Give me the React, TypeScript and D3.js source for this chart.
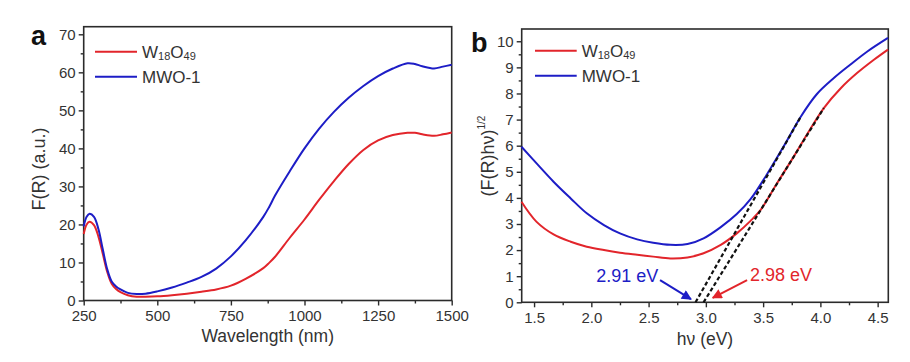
import React, { useEffect, useRef } from "react";
import * as d3 from "d3";

// panel a: Kubelka-Munk function vs wavelength
const wavelength = [250, 260, 270, 285, 300, 315, 330, 345, 360, 375, 400, 430, 460, 500, 550, 600, 650, 700, 750, 800, 860, 880, 900, 950, 1000, 1050, 1100, 1150, 1200, 1250, 1300, 1350, 1375, 1400, 1440, 1470, 1500];
const fW18O49 = [17.5, 20.0, 20.7, 19.8, 16.8, 12.2, 7.5, 4.4, 3.0, 2.2, 1.4, 1.0, 1.0, 1.1, 1.4, 1.8, 2.3, 2.9, 3.9, 5.7, 8.5, 9.9, 11.5, 16.5, 21.3, 26.5, 31.4, 35.9, 39.6, 42.1, 43.5, 44.1, 44.1, 43.7, 43.3, 43.7, 44.2];
const fMWO1 = [19.5, 22.0, 22.8, 22.0, 18.8, 13.4, 8.2, 5.0, 3.7, 2.9, 2.0, 1.7, 1.8, 2.4, 3.4, 4.7, 6.2, 8.4, 11.6, 15.8, 22.0, 24.6, 27.6, 34.0, 40.0, 45.2, 49.6, 53.3, 56.4, 59.0, 61.0, 62.4, 62.2, 61.6, 61.0, 61.5, 62.0];

// panel b: Tauc plot
const hvW18O49 = [1.39, 1.52, 1.67, 1.82, 1.96, 2.11, 2.25, 2.4, 2.54, 2.69, 2.84, 2.98, 3.13, 3.27, 3.39, 3.48, 3.62, 3.77, 3.9, 4.03, 4.18, 4.32, 4.47, 4.59];
const taucW18O49 = [3.85, 3.09, 2.6, 2.32, 2.13, 2.0, 1.9, 1.82, 1.75, 1.68, 1.72, 1.88, 2.2, 2.64, 3.12, 3.55, 4.55, 5.6, 6.55, 7.44, 8.21, 8.78, 9.3, 9.68];
const hvMWO1 = [1.39, 1.52, 1.67, 1.82, 1.96, 2.11, 2.25, 2.4, 2.54, 2.69, 2.84, 2.98, 3.13, 3.27, 3.39, 3.53, 3.68, 3.83, 3.97, 4.12, 4.26, 4.41, 4.59];
const taucMWO1 = [5.96, 5.33, 4.62, 3.98, 3.41, 2.96, 2.64, 2.41, 2.28, 2.2, 2.23, 2.45, 2.88, 3.38, 3.95, 4.88, 5.98, 7.12, 7.98, 8.6, 9.1, 9.61, 10.13];

// band gap tangents [W18O49, MWO-1]
const bandGap = [2.98, 2.91];
const tangentTopHv = [4.03, 3.83];
const tangentTopY = [7.44, 7.12];
const gapLabels = ["2.98 eV", "2.91 eV"];

const xTicksA = [250, 500, 750, 1000, 1250, 1500];
const yTicksA = [0, 10, 20, 30, 40, 50, 60, 70];
const xTicksB = [1.5, 2.0, 2.5, 3.0, 3.5, 4.0, 4.5];
const yTicksB = [0, 1, 2, 3, 4, 5, 6, 7, 8, 9, 10];

const RED = "#e2252b";
const BLUE = "#1d1dc6";
const INK = "#2b2b2b";
const TXT = "#333";
const FONT = "'Liberation Sans', Arial, Helvetica, sans-serif";

const mids = (t: number[]) => t.slice(1).map((v, i) => (v + t[i]) / 2);

function drawAxes(g, x, y, xTicks, yTicks, xFmt, yFmt) {
  const [x0, x1] = x.range();
  const [y0, y1] = y.range();

  const style = (sel) => {
    sel.select(".domain").remove();
    sel.selectAll("line").attr("stroke", INK).attr("stroke-width", 1.4);
    sel.selectAll("text").attr("fill", TXT).attr("font-size", 15).attr("font-family", FONT);
  };

  g.append("g")
    .attr("transform", `translate(0,${y0})`)
    .call(d3.axisBottom(x).tickValues(xTicks).tickSize(5).tickPadding(5).tickFormat(xFmt))
    .call(style);
  g.append("g")
    .attr("transform", `translate(0,${y0})`)
    .call(d3.axisBottom(x).tickValues(mids(xTicks)).tickSize(3).tickFormat(() => ""))
    .call(style);
  g.append("g")
    .attr("transform", `translate(${x0},0)`)
    .call(d3.axisLeft(y).tickValues(yTicks).tickSize(5).tickPadding(3).tickFormat(yFmt))
    .call(style);
  g.append("g")
    .attr("transform", `translate(${x0},0)`)
    .call(d3.axisLeft(y).tickValues(mids(yTicks)).tickSize(3).tickFormat(() => ""))
    .call(style);

  g.append("rect")
    .attr("x", x0)
    .attr("y", y1)
    .attr("width", x1 - x0)
    .attr("height", y0 - y1)
    .attr("fill", "none")
    .attr("stroke", INK)
    .attr("stroke-width", 1.6);
}

function drawLegend(g, lx0, lx1, ly) {
  [RED, BLUE].forEach((c, i) => {
    g.append("line")
      .attr("x1", lx0)
      .attr("x2", lx1)
      .attr("y1", ly + i * 25)
      .attr("y2", ly + i * 25)
      .attr("stroke", c)
      .attr("stroke-width", 2);
  });
  const t1 = g.append("text")
    .attr("x", lx1 + 5)
    .attr("y", ly + 6.5)
    .attr("font-size", 17)
    .attr("font-family", FONT)
    .attr("fill", TXT);
  t1.append("tspan").text("W");
  t1.append("tspan").attr("font-size", 11).attr("dy", 2).text("18");
  t1.append("tspan").attr("dy", -2).text("O");
  t1.append("tspan").attr("font-size", 11).attr("dy", 2).text("49");
  g.append("text")
    .attr("x", lx1 + 5)
    .attr("y", ly + 25 + 6.5)
    .attr("font-size", 17)
    .attr("font-family", FONT)
    .attr("fill", TXT)
    .text("MWO-1");
}

const App = () => {
  const chart = useRef(null);

  useEffect(() => {
    const svg = d3.select(chart.current);
    svg.selectAll("*").remove();

    const curve = d3.curveCatmullRom.alpha(0.5);

    // ---------- panel a ----------
    const xa = d3.scaleLinear().domain([250, 1500]).range([83.7, 451.7]);
    const ya = d3.scaleLinear().domain([0, 72]).range([300.5, 26.7]);
    const ga = svg.append("g");

    drawAxes(ga, xa, ya, xTicksA, yTicksA, d3.format("d"), d3.format("d"));

    const lineA = d3.line<number>().x((d, i) => xa(wavelength[i])).y((d) => ya(d)).curve(curve);
    [[fW18O49, RED], [fMWO1, BLUE]].forEach(([vals, c]) => {
      ga.append("path")
        .attr("d", lineA(vals as number[]))
        .attr("fill", "none")
        .attr("stroke", c as string)
        .attr("stroke-width", 2);
    });

    drawLegend(ga, 95, 137, 51.7);

    ga.append("text")
      .attr("x", 31)
      .attr("y", 45)
      .attr("font-size", 27)
      .attr("font-weight", "bold")
      .attr("font-family", FONT)
      .attr("fill", "#111")
      .text("a");

    ga.append("text")
      .attr("x", 267.7)
      .attr("y", 342)
      .attr("text-anchor", "middle")
      .attr("font-size", 17.5)
      .attr("font-family", FONT)
      .attr("fill", TXT)
      .text("Wavelength (nm)");

    ga.append("text")
      .attr("transform", "translate(45,169) rotate(-90)")
      .attr("text-anchor", "middle")
      .attr("font-size", 18)
      .attr("font-family", FONT)
      .attr("fill", TXT)
      .text("F(R) (a.u.)");

    // ---------- panel b ----------
    const xb = d3.scaleLinear().domain([1.392, 4.593]).range([521.7, 888.3]);
    const yb = d3.scaleLinear().domain([0, 10.47]).range([302.3, 29]);
    const gb = svg.append("g");

    drawAxes(gb, xb, yb, xTicksB, yTicksB, d3.format(".1f"), d3.format("d"));

    const lineB = d3.line<[number, number]>().x((d) => xb(d[0])).y((d) => yb(d[1])).curve(curve);
    const seriesB: [number[], number[], string][] = [
      [hvW18O49, taucW18O49, RED],
      [hvMWO1, taucMWO1, BLUE],
    ];
    seriesB.forEach(([hx, vy, c]) => {
      gb.append("path")
        .attr("d", lineB(hx.map((h, i) => [h, vy[i]])))
        .attr("fill", "none")
        .attr("stroke", c)
        .attr("stroke-width", 2);
    });

    // tangent lines
    bandGap.forEach((eg, i) => {
      gb.append("line")
        .attr("x1", xb(eg))
        .attr("y1", yb(0))
        .attr("x2", xb(tangentTopHv[i]))
        .attr("y2", yb(tangentTopY[i]))
        .attr("stroke", "#111")
        .attr("stroke-width", 2.2)
        .attr("stroke-dasharray", "4,2.5");
    });

    // arrows and band gap labels
    const defs = svg.append("defs");
    [RED, BLUE].forEach((c, i) => {
      defs.append("marker")
        .attr("id", `arr${i}`)
        .attr("viewBox", "0 0 10 10")
        .attr("refX", 9)
        .attr("refY", 5)
        .attr("markerWidth", 5.5)
        .attr("markerHeight", 5)
        .attr("markerUnits", "strokeWidth")
        .attr("orient", "auto")
        .append("path")
        .attr("d", "M0,0 L10,5 L0,10 Z")
        .attr("fill", c);
    });

    // W18O49 (red): label on the right, arrow pointing left-down
    gb.append("line")
      .attr("x1", xb(3.36))
      .attr("y1", yb(0.85))
      .attr("x2", xb(3.06))
      .attr("y2", yb(0.17))
      .attr("stroke", RED)
      .attr("stroke-width", 2)
      .attr("marker-end", "url(#arr0)");
    gb.append("text")
      .attr("x", xb(3.385))
      .attr("y", yb(0.83))
      .attr("font-size", 18)
      .attr("font-family", FONT)
      .attr("fill", RED)
      .text(gapLabels[0]);

    // MWO-1 (blue): label on the left, arrow pointing right-down
    gb.append("line")
      .attr("x1", xb(2.6))
      .attr("y1", yb(0.85))
      .attr("x2", xb(bandGap[1] - 0.04))
      .attr("y2", yb(0.12))
      .attr("stroke", BLUE)
      .attr("stroke-width", 2)
      .attr("marker-end", "url(#arr1)");
    gb.append("text")
      .attr("x", xb(2.585))
      .attr("y", yb(0.79))
      .attr("text-anchor", "end")
      .attr("font-size", 18)
      .attr("font-family", FONT)
      .attr("fill", BLUE)
      .text(gapLabels[1]);

    drawLegend(gb, 535, 576.7, 50.7);

    gb.append("text")
      .attr("x", 471)
      .attr("y", 52)
      .attr("font-size", 27)
      .attr("font-weight", "bold")
      .attr("font-family", FONT)
      .attr("fill", "#111")
      .text("b");

    gb.append("text")
      .attr("x", 705)
      .attr("y", 345)
      .attr("text-anchor", "middle")
      .attr("font-size", 17.5)
      .attr("font-family", FONT)
      .attr("fill", TXT)
      .text("hν (eV)");

    const yl = gb.append("text")
      .attr("transform", "translate(494,156) rotate(-90)")
      .attr("text-anchor", "middle")
      .attr("font-size", 18)
      .attr("font-family", FONT)
      .attr("fill", TXT);
    yl.append("tspan").text("(F(R)hν)");
    yl.append("tspan").attr("font-size", 10).attr("dy", -9).text("1/2");
  }, []);

  return (
    <svg
      ref={chart}
      width={910}
      height={362}
      viewBox="0 0 910 362"
      style={{ position: "absolute", left: 0, top: 0, background: "#fff" }}
    ></svg>
  );
};

export default App;
